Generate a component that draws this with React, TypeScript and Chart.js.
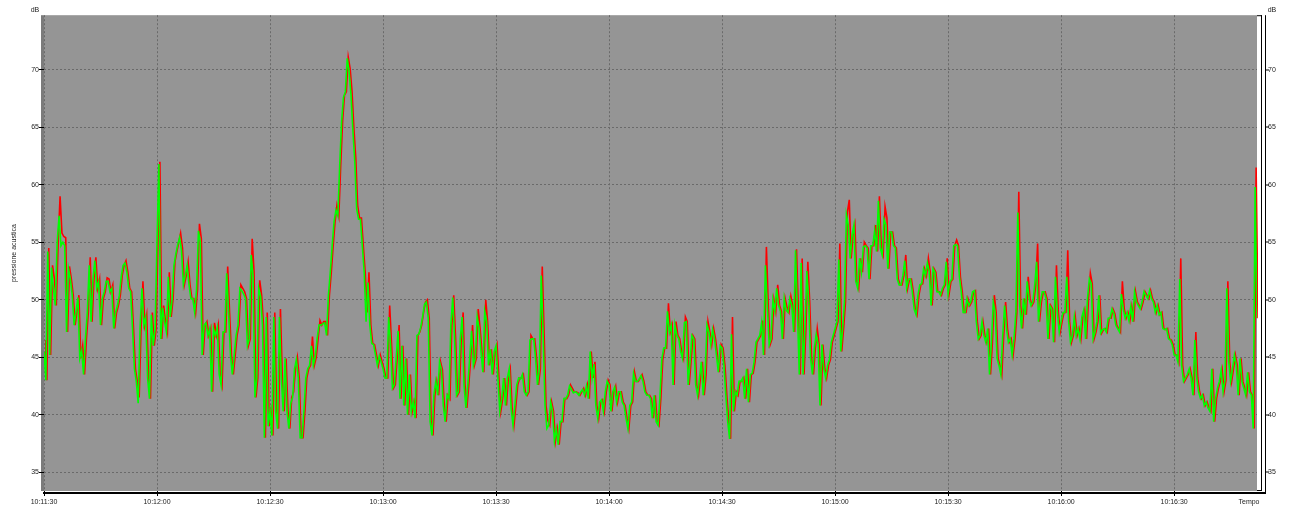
import React, { useEffect, useRef } from 'react';
import { Chart, registerables } from 'chart.js';

Chart.register(...registerables);

// Start of the recording: 10:11:30 (seconds since midnight)
const START_TIME = 10 * 3600 + 11 * 60 + 30;
// One sample every half second
const SAMPLE_PERIOD = 0.5;

// Green trace (dB)
const greenValues = [
  45.5, 43.0, 54.2, 45.2, 52.8, 51.0, 49.5, 55.0, 57.3, 54.7,
  55.0, 54.7, 47.2, 52.7, 51.8, 50.4, 47.8, 49.0, 50.2, 44.9,
  45.6, 43.5, 46.6, 48.9, 53.0, 48.1, 51.8, 53.4, 51.0, 51.6,
  47.8, 50.1, 50.7, 51.6, 51.6, 50.7, 51.0, 47.5, 48.9, 49.5,
  50.4, 52.0, 53.0, 53.2, 52.4, 51.0, 50.7, 47.5, 44.0, 42.9,
  41.0, 47.5, 51.0, 47.8, 48.5, 43.2, 41.4, 48.7, 46.0, 47.5,
  55.0, 61.8, 46.6, 49.3, 48.1, 47.2, 52.0, 48.5, 50.0, 53.0,
  54.0, 54.8, 55.4, 54.3, 51.3, 52.1, 53.0, 51.3, 50.1, 50.1,
  48.9, 50.9, 56.0, 55.0, 45.2, 47.8, 48.0, 46.9, 47.5, 42.0,
  47.5, 46.9, 47.6, 43.5, 42.6, 47.2, 47.2, 52.3, 48.9, 45.2,
  43.5, 45.2, 46.9, 47.8, 51.0, 50.8, 50.5, 50.1, 46.0, 46.6,
  53.9, 52.0, 41.5, 43.2, 51.0, 50.3, 47.8, 38.0, 48.5, 39.0,
  40.3, 38.2, 48.5, 40.3, 38.8, 48.5, 43.2, 40.3, 44.9, 40.3,
  38.8, 41.0, 41.5, 44.0, 44.8, 43.2, 38.0, 38.0, 40.3, 43.2,
  44.0, 44.3, 46.0, 44.3, 45.0, 46.6, 47.8, 47.8, 47.9, 48.0,
  46.9, 50.4, 52.4, 54.7, 56.8, 57.8, 57.3, 61.7, 65.5, 67.6,
  68.1, 71.0, 69.8, 67.8, 64.7, 62.0, 57.9, 57.0, 57.0, 54.7,
  52.4, 48.1, 51.5, 47.8, 46.2, 46.1, 45.2, 44.3, 45.1, 44.6,
  44.0, 43.2, 43.2, 48.5, 46.1, 42.3, 42.6, 45.0, 47.3, 41.4,
  46.0, 40.8, 44.9, 40.0, 43.5, 40.3, 41.1, 39.7, 46.9, 47.0,
  47.6, 48.5, 49.6, 49.8, 48.4, 39.4, 38.2, 41.7, 42.9, 41.7,
  44.6, 43.9, 40.8, 39.4, 41.7, 41.4, 47.8, 50.2, 46.6, 41.7,
  42.0, 46.6, 48.5, 42.6, 40.6, 42.6, 44.9, 47.3, 44.3, 44.9,
  48.5, 47.5, 45.5, 43.7, 49.0, 48.1, 44.3, 45.7, 43.5, 45.5,
  46.0, 43.2, 40.3, 41.4, 43.2, 40.8, 43.2, 44.0, 40.6, 39.1,
  40.8, 42.6, 43.2, 43.1, 43.5, 42.0, 41.7, 42.0, 46.5, 46.6,
  46.6, 44.9, 42.6, 44.0, 52.1, 47.0, 40.8, 38.8, 39.1, 41.1,
  40.3, 37.7, 38.8, 37.4, 39.4, 39.4, 41.4, 41.4, 41.7, 42.5,
  42.2, 41.9, 42.0, 41.9, 41.7, 42.0, 42.2, 41.7, 42.5, 41.4,
  45.5, 43.2, 44.4, 40.8, 39.7, 41.1, 41.3, 40.3, 42.0, 42.9,
  42.6, 40.3, 42.0, 42.4, 41.1, 42.0, 42.0, 41.1, 40.8, 39.7,
  38.8, 40.8, 41.1, 43.6, 42.9, 42.9, 43.1, 43.4, 42.9, 42.0,
  41.7, 41.7, 41.4, 39.7, 41.7, 39.4, 39.1, 41.5, 44.8, 45.8,
  45.8, 49.0, 47.2, 47.8, 42.6, 47.8, 46.9, 46.6, 45.5, 44.9,
  48.0, 48.1, 42.6, 44.6, 46.9, 46.6, 42.6, 41.7, 43.2, 44.6,
  41.7, 43.5, 47.8, 47.2, 46.1, 47.4, 46.6, 45.2, 43.7, 46.0,
  45.8, 44.3, 41.7, 39.4, 37.9, 47.0, 40.3, 42.0, 41.7, 42.9,
  42.9, 43.2, 41.4, 44.0, 41.1, 43.5, 43.6, 44.6, 46.3, 46.6,
  46.9, 48.0, 45.2, 53.0, 49.5, 46.1, 46.6, 50.0, 49.0, 51.0,
  49.5, 49.0, 46.6, 50.1, 49.1, 48.9, 50.1, 49.5, 47.2, 54.3,
  48.9, 43.5, 53.2, 43.5, 47.5, 52.5, 49.8, 44.9, 43.5, 45.8,
  47.0, 46.1, 40.8, 46.1, 44.0, 43.2, 44.3, 44.8, 46.3, 46.9,
  47.5, 48.1, 53.5, 45.5, 47.5, 49.8, 57.4, 56.5, 53.6, 55.6,
  56.5, 51.6, 51.0, 53.6, 52.4, 54.6, 54.7, 54.5, 51.8, 54.7,
  54.7, 56.0, 54.2, 58.6, 54.5, 53.9, 57.0, 56.5, 52.7, 55.9,
  55.9, 54.7, 54.5, 51.8, 51.3, 51.3, 52.1, 53.4, 51.0, 51.8,
  51.8, 50.7, 49.2, 48.7, 50.4, 51.3, 51.4, 52.7, 52.1, 53.2,
  52.4, 49.5, 52.7, 52.4, 50.7, 50.7, 50.4, 51.0, 51.3, 53.3,
  50.5, 51.6, 51.8, 54.7, 54.8, 54.7, 52.0, 50.7, 48.9, 48.9,
  50.1, 49.5, 49.8, 50.7, 50.8, 48.1, 46.6, 46.9, 48.1, 46.9,
  46.3, 47.5, 43.5, 46.3, 49.8, 48.9, 44.9, 44.3, 43.5, 46.9,
  49.5, 47.5, 46.3, 46.6, 45.2, 46.6, 48.9, 57.6, 49.5, 47.5,
  50.1, 48.7, 51.6, 50.1, 49.5, 49.8, 51.3, 53.3, 48.1, 49.8,
  50.7, 50.7, 50.1, 46.6, 49.5, 49.2, 46.3, 52.0, 48.9, 47.2,
  48.1, 48.9, 48.9, 52.0, 48.1, 46.3, 46.9, 48.5, 46.9, 47.5,
  46.6, 48.5, 49.1, 46.6, 50.1, 51.8, 51.4, 46.6, 47.2, 48.1,
  50.4, 47.1, 47.4, 47.5, 47.2, 48.4, 48.4, 49.2, 48.8, 47.8,
  47.5, 47.2, 50.5, 49.2, 48.4, 48.9, 48.2, 49.4, 48.1, 50.7,
  49.8, 49.5, 49.2, 49.8, 50.7, 50.4, 50.1, 50.8, 50.1, 49.8,
  48.9, 49.5, 48.7, 48.9, 47.5, 47.4, 47.5, 46.6, 46.5, 46.1,
  45.2, 45.2, 44.6, 51.8, 44.3, 42.9, 43.2, 43.5, 44.0, 43.2,
  41.7, 46.5, 43.2, 42.0, 41.4, 41.7, 40.8, 41.1, 40.6, 40.3,
  44.0, 39.4, 41.4, 42.3, 42.9, 43.9, 42.0, 43.0, 51.0, 44.6,
  42.9, 44.0, 45.2, 44.3, 41.7, 44.9, 42.9, 42.3, 41.7, 43.7,
  42.0, 41.7, 38.8, 59.8, 48.4,
];

// Red trace (dB)
const redValues = [
  46.5, 43.0, 54.5, 45.2, 53.0, 51.8, 49.5, 55.0, 59.0, 55.8,
  55.5, 55.4, 47.2, 52.9, 51.8, 50.4, 47.8, 49.0, 50.4, 44.9,
  46.0, 43.5, 46.6, 48.9, 53.7, 48.1, 51.8, 53.7, 51.0, 51.8,
  47.8, 50.1, 50.7, 51.9, 51.8, 50.7, 51.3, 47.5, 48.9, 49.5,
  50.4, 52.1, 53.0, 53.4, 52.4, 51.0, 50.7, 47.5, 44.0, 42.9,
  41.5, 47.5, 51.6, 47.8, 48.7, 43.2, 41.4, 48.9, 46.0, 47.5,
  55.3, 62.0, 46.6, 49.5, 48.1, 47.2, 52.4, 48.5, 50.1, 53.3,
  54.2, 55.0, 55.8, 54.5, 51.3, 52.1, 53.3, 51.3, 50.1, 50.1,
  48.9, 50.9, 56.6, 55.3, 45.2, 47.8, 48.1, 46.9, 47.5, 42.0,
  48.0, 46.9, 47.8, 43.5, 42.6, 47.2, 47.2, 52.9, 48.9, 45.2,
  43.5, 45.2, 46.9, 47.8, 51.3, 51.0, 50.7, 50.1, 46.0, 46.6,
  55.3, 52.4, 41.5, 43.2, 51.7, 50.4, 47.8, 38.0, 48.9, 39.0,
  40.3, 38.2, 48.9, 40.3, 38.8, 49.2, 43.2, 40.3, 44.9, 40.3,
  38.8, 41.5, 42.0, 44.0, 45.0, 43.2, 38.0, 38.0, 40.3, 43.2,
  44.0, 44.3, 46.8, 44.3, 45.0, 46.6, 48.2, 47.8, 48.1, 48.1,
  46.9, 50.4, 52.4, 54.7, 56.8, 58.2, 57.3, 61.7, 65.5, 67.8,
  68.1, 71.1, 70.1, 68.1, 64.9, 62.3, 58.2, 57.1, 57.1, 54.7,
  52.4, 48.9, 52.4, 47.8, 46.2, 46.1, 45.2, 44.3, 45.2, 44.6,
  44.0, 43.2, 43.2, 49.5, 46.1, 42.3, 42.6, 45.0, 47.8, 41.4,
  46.0, 40.8, 44.9, 40.0, 43.5, 40.3, 41.1, 39.7, 46.9, 47.2,
  47.8, 48.9, 49.8, 50.0, 48.4, 39.4, 38.2, 41.7, 42.9, 41.7,
  44.6, 43.9, 40.8, 39.4, 41.7, 41.4, 47.8, 50.4, 46.6, 41.7,
  42.0, 46.6, 48.9, 42.6, 40.6, 42.6, 44.9, 47.8, 44.3, 44.9,
  49.2, 47.5, 45.5, 43.7, 50.0, 48.1, 44.3, 45.7, 43.5, 45.5,
  46.1, 43.2, 40.3, 41.4, 43.2, 40.8, 43.2, 44.0, 40.6, 39.1,
  40.8, 42.6, 43.2, 43.2, 43.5, 42.0, 41.7, 42.0, 46.9, 46.6,
  46.6, 44.9, 42.6, 44.0, 52.9, 47.0, 40.8, 39.5, 39.1, 41.1,
  40.3, 37.7, 38.8, 37.4, 39.4, 39.4, 41.4, 41.4, 41.7, 42.6,
  42.3, 42.0, 42.0, 41.9, 41.7, 42.0, 42.3, 41.7, 42.6, 41.4,
  45.5, 43.2, 44.6, 40.8, 39.7, 41.1, 41.3, 40.3, 42.0, 43.0,
  42.6, 40.3, 42.0, 42.5, 41.1, 42.0, 42.0, 41.1, 40.8, 39.7,
  38.8, 40.8, 41.1, 43.7, 42.9, 42.9, 43.2, 43.5, 42.9, 42.0,
  41.7, 41.7, 41.4, 39.7, 41.7, 39.4, 39.1, 41.5, 44.8, 45.8,
  45.8, 49.7, 47.2, 47.8, 42.6, 48.1, 46.9, 46.6, 45.5, 44.9,
  48.5, 48.1, 42.6, 44.6, 46.9, 46.6, 42.6, 41.7, 43.2, 44.6,
  41.7, 43.5, 48.1, 47.2, 46.1, 47.5, 46.6, 45.2, 43.7, 46.1,
  45.8, 44.3, 41.7, 39.4, 37.9, 48.5, 40.3, 42.0, 41.7, 42.9,
  42.9, 43.2, 41.4, 44.0, 41.1, 43.5, 43.6, 44.6, 46.3, 46.6,
  46.9, 48.2, 45.2, 54.6, 49.5, 46.1, 46.6, 50.0, 49.0, 51.3,
  49.5, 49.0, 46.6, 50.1, 49.3, 48.9, 50.3, 49.5, 47.2, 54.4,
  48.9, 43.5, 53.6, 43.5, 47.5, 53.3, 49.8, 44.9, 43.5, 45.8,
  47.5, 46.1, 40.8, 46.1, 44.0, 43.2, 44.3, 44.8, 46.3, 46.9,
  47.5, 48.1, 54.9, 45.5, 47.5, 49.8, 57.6, 58.7, 53.6, 55.6,
  56.5, 51.6, 51.0, 53.6, 52.4, 55.0, 54.7, 54.5, 51.8, 54.7,
  54.7, 56.5, 54.2, 59.0, 54.5, 53.9, 58.1, 57.1, 52.7, 55.9,
  55.9, 54.7, 54.5, 51.8, 51.3, 51.3, 52.1, 53.9, 51.0, 51.8,
  51.8, 50.7, 49.2, 48.7, 50.4, 51.3, 51.4, 52.7, 52.1, 53.6,
  52.4, 49.5, 52.7, 52.4, 50.7, 50.7, 50.4, 51.0, 51.3, 53.6,
  50.5, 51.6, 51.8, 54.7, 55.2, 54.7, 52.0, 50.7, 48.9, 48.9,
  50.1, 49.5, 49.8, 50.7, 50.8, 48.1, 46.6, 46.9, 48.1, 46.9,
  46.3, 47.5, 43.5, 46.3, 50.4, 48.9, 44.9, 44.3, 43.5, 46.9,
  49.8, 47.5, 46.3, 46.6, 45.2, 46.6, 48.9, 59.4, 49.5, 47.5,
  50.1, 48.7, 52.0, 50.1, 49.5, 49.8, 51.3, 54.9, 48.1, 49.8,
  50.7, 50.7, 50.1, 46.6, 49.5, 49.2, 46.3, 53.0, 48.9, 47.2,
  48.1, 48.9, 48.9, 54.3, 48.1, 46.3, 46.9, 48.5, 46.9, 47.5,
  46.6, 48.5, 49.1, 46.6, 50.1, 52.3, 51.4, 46.6, 47.2, 48.1,
  50.4, 47.1, 47.4, 47.5, 47.2, 48.4, 48.4, 49.2, 48.8, 47.8,
  47.5, 47.2, 51.6, 49.2, 48.4, 48.9, 48.2, 49.4, 48.1, 50.7,
  49.8, 49.5, 49.2, 49.8, 50.7, 50.4, 50.1, 50.8, 50.1, 49.8,
  48.9, 49.5, 48.7, 48.9, 47.5, 47.4, 47.5, 46.6, 46.5, 46.1,
  45.2, 45.2, 44.6, 53.6, 44.3, 42.9, 43.2, 43.5, 44.0, 43.2,
  41.7, 47.2, 43.2, 42.0, 41.4, 41.7, 40.8, 41.1, 40.6, 40.3,
  44.0, 39.4, 41.4, 42.3, 42.9, 43.9, 42.0, 43.0, 51.6, 44.6,
  42.9, 44.0, 45.2, 44.3, 41.7, 44.9, 42.9, 42.3, 41.7, 43.7,
  42.0, 41.7, 38.8, 61.5, 48.4,
];

// Elapsed time (s) of each sample
const elapsedSeconds = greenValues.map((_, i) => i * SAMPLE_PERIOD);

const X_MIN = 0;
const X_MAX = 322;
const X_STEP = 30;
const Y_MIN = 33.37;
const Y_MAX = 74.75;
const Y_STEP = 5;

const FONT = 'Liberation Sans';
const TEXT_COLOR = '#222';

function formatTime(sec: number): string {
  const t = START_TIME + Math.round(sec);
  const h = Math.floor(t / 3600);
  const m = Math.floor((t % 3600) / 60);
  const s = t % 60;
  const p = (n: number) => String(n).padStart(2, '0');
  return `${p(h)}:${p(m)}:${p(s)}`;
}

// The red trace is rendered one pixel to the right of the green one,
// like the original instrument display.
const redShiftPlugin = {
  id: 'redShift',
  beforeDatasetDraw(chart: any, args: any) {
    if (args.index === 0) {
      chart.ctx.save();
      chart.ctx.translate(1, 0);
    }
  },
  afterDatasetDraw(chart: any, args: any) {
    if (args.index === 0) {
      chart.ctx.restore();
    }
  },
};

const decorPlugin = {
  id: 'decor',
  beforeDraw(chart: any) {
    const { ctx, chartArea: a } = chart;
    ctx.save();
    ctx.fillStyle = '#959595';
    ctx.fillRect(a.left, a.top, a.right - a.left, a.bottom - a.top);
    ctx.fillStyle = '#7b7b7b';
    ctx.fillRect(a.left - 3, a.top, 3, a.bottom - a.top);
    ctx.restore();
  },
  afterDraw(chart: any) {
    const { ctx, chartArea: a, scales } = chart;
    ctx.save();
    ctx.fillStyle = '#000';
    ctx.fillRect(a.left - 1, a.bottom + 1, a.right + 9 - (a.left - 1), 2);
    ctx.fillRect(a.right, a.top, 5, 1);
    ctx.fillRect(a.right + 4, a.top, 1, a.bottom - a.top);
    ctx.fillRect(a.right, a.bottom - 1, 5, 1);
    ctx.fillRect(a.right + 8, a.top, 1, a.bottom - a.top + 2);
    const y2 = scales.y2;
    y2.ticks.forEach((t: any) => {
      const py = Math.round(y2.getPixelForValue(t.value));
      ctx.fillRect(a.right + 8, py - 0.5, 4, 1);
    });
    ctx.fillStyle = TEXT_COLOR;
    ctx.font = `7px "${FONT}"`;
    ctx.textAlign = 'center';
    ctx.textBaseline = 'middle';
    ctx.fillText('dB', a.left - 9, 10);
    ctx.fillText('dB', a.right + 15, 10);
    ctx.fillText('Tempo', a.right - 8, 502);
    ctx.restore();
  },
};

export default function App() {
  const canvasRef = useRef<HTMLCanvasElement>(null);

  useEffect(() => {
    const canvas = canvasRef.current;
    if (!canvas) return;
    const tickFont = { family: FONT, size: 7 };
    const chart = new Chart(canvas, {
      type: 'line',
      data: {
        labels: elapsedSeconds,
        datasets: [
          {
            label: 'rosso',
            data: redValues,
            borderColor: '#ff0000',
            borderWidth: 1.6,
            pointRadius: 0,
            tension: 0,
            fill: false,
            order: 1,
          },
          {
            label: 'verde',
            data: greenValues,
            borderColor: '#00ff00',
            borderWidth: 1.6,
            pointRadius: 0,
            tension: 0,
            fill: false,
            order: 0,
          },
        ],
      },
      options: {
        responsive: false,
        animation: false,
        devicePixelRatio: 1,
        layout: { padding: { top: 15, left: 0, right: 0, bottom: 0 } },
        plugins: {
          legend: { display: false },
          tooltip: { enabled: false },
          title: { display: false },
        },
        scales: {
          x: {
            type: 'linear',
            position: 'bottom',
            min: X_MIN,
            max: X_MAX,
            grid: {
              color: '#6a6a6a',
              lineWidth: 1,
              drawTicks: true,
              tickLength: 5,
              tickColor: '#000',
              tickWidth: 1,
              tickBorderDash: [],
            },
            border: { display: false, dash: [2, 2] },
            ticks: {
              stepSize: X_STEP,
              includeBounds: false,
              autoSkip: false,
              maxRotation: 0,
              minRotation: 0,
              padding: 2,
              font: tickFont,
              color: TEXT_COLOR,
              callback: (v: any) => formatTime(Number(v)),
            },
            afterFit: (scale: any) => {
              scale.height = 21;
            },
          },
          y: {
            type: 'linear',
            position: 'left',
            min: Y_MIN,
            max: Y_MAX,
            grid: {
              color: '#6a6a6a',
              lineWidth: 1,
              drawTicks: true,
              tickLength: 5,
              tickColor: '#000',
              tickWidth: 1,
              tickBorderDash: [],
            },
            border: { display: false, dash: [2, 2] },
            ticks: {
              stepSize: Y_STEP,
              includeBounds: false,
              padding: 0,
              font: tickFont,
              color: TEXT_COLOR,
              callback: (v: any) => String(v),
            },
            title: {
              display: true,
              text: 'pressione acustica',
              font: tickFont,
              color: TEXT_COLOR,
              padding: { top: 10, bottom: 0 },
            },
            afterFit: (scale: any) => {
              scale.width = 44;
            },
          },
          y2: {
            type: 'linear',
            position: 'right',
            display: true,
            min: Y_MIN,
            max: Y_MAX,
            grid: { display: false, drawTicks: false },
            border: { display: false },
            ticks: {
              stepSize: Y_STEP,
              includeBounds: false,
              padding: 11,
              font: tickFont,
              color: TEXT_COLOR,
              callback: (v: any) => String(v),
            },
            afterFit: (scale: any) => {
              scale.width = 38;
            },
          },
        },
      },
      plugins: [redShiftPlugin, decorPlugin],
    } as any);
    return () => chart.destroy();
  }, []);

  return (
    <div style={{ position: 'absolute', left: 0, top: 0, width: 1295, height: 512, background: '#fff' }}>
      <canvas ref={canvasRef} width={1295} height={512} style={{ display: 'block' }} />
    </div>
  );
}
